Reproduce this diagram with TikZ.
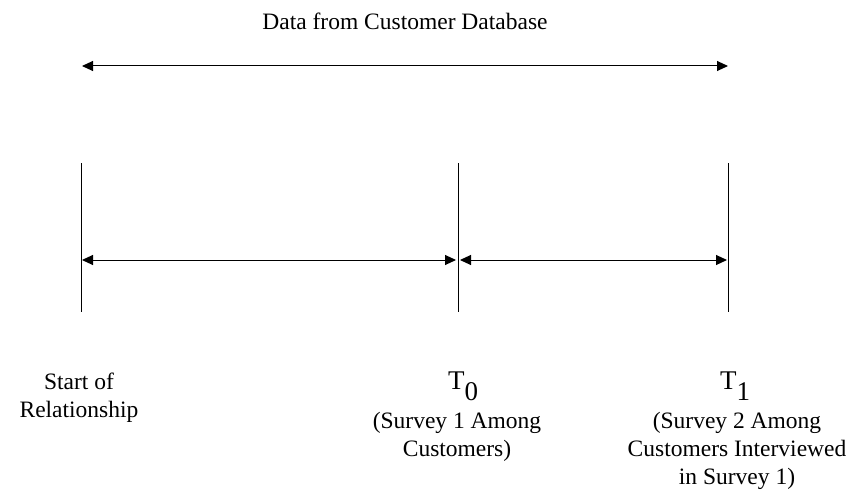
\documentclass[tikz,border=0pt]{standalone}
\usepackage{fontspec}
\setmainfont{Liberation Serif}
\usetikzlibrary{arrows.meta}

\begin{document}
\begin{tikzpicture}[x=1pt,y=-1pt,every node/.style={inner sep=0pt,align=center,font=\fontsize{23.5}{28}\selectfont},span/.style={{Triangle[length=11pt,width=10pt]}-{Triangle[length=11pt,width=10pt]},line width=1pt},tickline/.style={line width=1pt},bigT/.style={font=\fontsize{27}{28}\selectfont}]
	
	\useasboundingbox (0,0) rectangle (857,495);
	
	\node[anchor=base] (title) at (405,30) {Data from Customer Database};
	\coordinate (data left) at (82,66);
	\coordinate (data right) at (728,66);
	\draw[span] (data left) -- (data right);
	
	\coordinate (start top) at (81,163);
	\coordinate (start bot) at (81,312);
	\coordinate (t0 top) at (458,163);
	\coordinate (t0 bot) at (458,312);
	\coordinate (t1 top) at (728,163);
	\coordinate (t1 bot) at (728,312);
	\draw[tickline] (start top) -- (start bot);
	\draw[tickline] (t0 top) -- (t0 bot);
	\draw[tickline] (t1 top) -- (t1 bot);
	
	\coordinate (start mid) at (81,260);
	\coordinate (t0 mid) at (458,260);
	\coordinate (t1 mid) at (728,260);
	\draw[span,shorten <=1pt,shorten >=2pt] (start mid) -- (t0 mid);
	\draw[span,shorten <=2pt,shorten >=1pt] (t0 mid) -- (t1 mid);
	
	\node[anchor=north] (start label) at (79,373) {Start of\\Relationship};
	\node[bigT,anchor=base] (t0 label) at (463,389) {T\raisebox{-11pt}{0}};
	\node[anchor=north] (t0 note) at (457,412) {(Survey 1 Among\\Customers)};
	\node[bigT,anchor=base] (t1 label) at (735,389) {T\raisebox{-11pt}{1}};
	\node[anchor=north] (t1 note) at (737,412) {(Survey 2 Among\\Customers Interviewed\\in Survey 1)};
	
\end{tikzpicture}
\end{document}
